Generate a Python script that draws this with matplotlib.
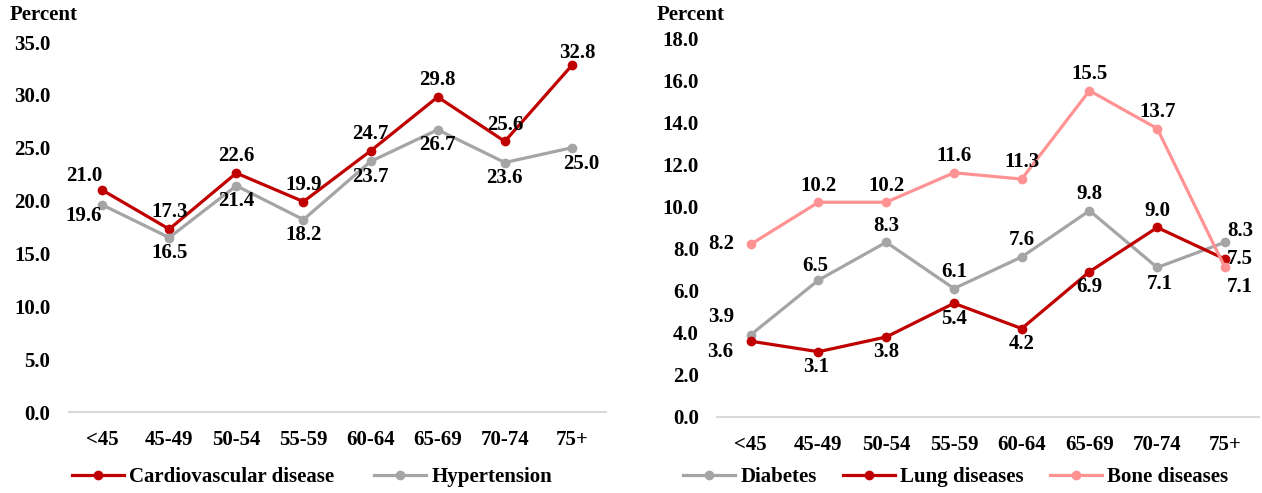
import numpy as np
import matplotlib
matplotlib.use("Agg")
import matplotlib.pyplot as plt

plt.rcParams["font.family"] = ["Liberation Serif", "DejaVu Serif"]
plt.rcParams["font.weight"] = "bold"
plt.rcParams["font.size"] = 15

ages = ["<45", "45-49", "50-54", "55-59", "60-64", "65-69", "70-74", "75+"]

cardio = [21.0, 17.3, 22.6, 19.9, 24.7, 29.8, 25.6, 32.8]
hypert = [19.6, 16.5, 21.4, 18.2, 23.7, 26.7, 23.6, 25.0]

diabetes = [3.9, 6.5, 8.3, 6.1, 7.6, 9.8, 7.1, 8.3]
lung = [3.6, 3.1, 3.8, 5.4, 4.2, 6.9, 9.0, 7.5]
bone = [8.2, 10.2, 10.2, 11.6, 11.3, 15.5, 13.7, 7.1]

RED = "#C00000"
GREY = "#A5A5A5"
PINK = "#FF9393"

# label offsets in points (dx, dy) per point
above = (0, 12)
below = (0, -11)
cardio_off = [(-13, 10)] + [above] * 6 + [(4, 9)]
hypert_off = [(-13, -8)] + [below] * 6 + [(7, -12)]
bone_off = [(-21, 0)] + [above] * 6 + [(11, -14)]
diab_off = [(-21, 13), (-2, 10), above, above, above, above, (2, -12), (11, 8)]
lung_off = [(-22, -8), (-2, -11), below, below, below, below, above, (11, 0)]

fig = plt.figure(figsize=(12.62, 4.93), dpi=100)
ax1 = fig.add_axes([0.0543, 0.1643, 0.4255, 0.7505])
ax2 = fig.add_axes([0.568, 0.1542, 0.4295, 0.7687])

x = np.arange(len(ages))


def draw(ax, y, color, label, offs):
    ax.plot(x, y, color=color, lw=2.3, marker="o", ms=6, label=label,
            solid_joinstyle="miter", zorder=3)
    for xi, yi, (dx, dy) in zip(x, y, offs):
        ax.annotate(f"{yi:.1f}", (xi, yi), xytext=(dx, dy),
                    textcoords="offset points", ha="center", va="center",
                    fontsize=15, fontweight="bold", zorder=4)


draw(ax1, cardio, RED, "Cardiovascular disease", cardio_off)
draw(ax1, hypert, GREY, "Hypertension", hypert_off)

draw(ax2, diabetes, GREY, "Diabetes", diab_off)
draw(ax2, lung, RED, "Lung diseases", lung_off)
draw(ax2, bone, PINK, "Bone diseases", bone_off)

for ax, top, step in [(ax1, 35, 5), (ax2, 18, 2)]:
    ax.set_xlim(-0.5, len(ages) - 0.5)
    ax.set_ylim(0, top)
    ax.set_yticks(np.arange(0, top + 0.01, step))
    ax.set_yticklabels([f"{v:.1f}" for v in np.arange(0, top + 0.01, step)])
    ax.set_xticks(x)
    ax.set_xticklabels(ages)
    for s in ["top", "right", "left"]:
        ax.spines[s].set_visible(False)
    ax.spines["bottom"].set_color("#D9D9D9")
    ax.spines["bottom"].set_linewidth(1.5)
    ax.tick_params(length=0, labelsize=15)
    ax.tick_params(axis="y", pad=13)
    ax.tick_params(axis="x", pad=13)

fig.text(10 / 1262, 1 - 15 / 493, "Percent", ha="left", va="center",
         fontsize=15, fontweight="bold")
fig.text(657 / 1262, 1 - 15 / 493, "Percent", ha="left", va="center",
         fontsize=15, fontweight="bold")

leg_kw = dict(frameon=False, handlelength=2.5, handletextpad=0.25,
              fontsize=15, borderaxespad=0, borderpad=0)
ax1.legend(loc="center left", bbox_to_anchor=(72 / 1262, 1 - 477 / 493),
           bbox_transform=fig.transFigure, ncol=2, columnspacing=1.9, **leg_kw)
ax2.legend(loc="center left", bbox_to_anchor=(683 / 1262, 1 - 477 / 493),
           bbox_transform=fig.transFigure, ncol=3, columnspacing=1.25, **leg_kw)

fig.savefig("out.png", dpi=100)
